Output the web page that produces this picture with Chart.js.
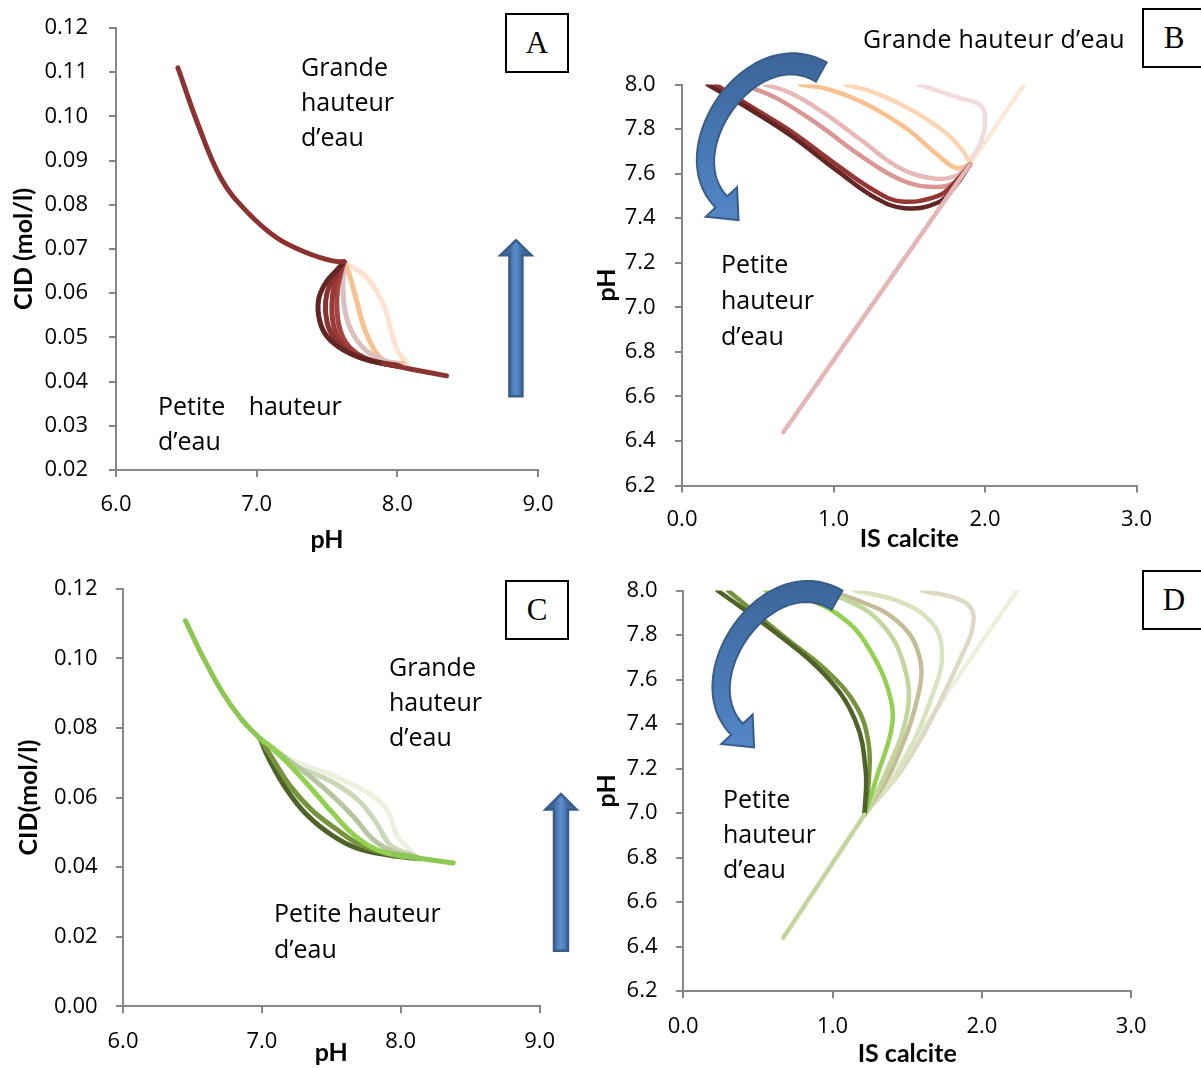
<!DOCTYPE html>
<html>
<head>
<meta charset="utf-8">
<script src="https://cdn.jsdelivr.net/npm/chart.js@4.4.1/dist/chart.umd.min.js"></script>
<style>
html, body { margin: 0; padding: 0; background: #fff; }
body { width: 1201px; height: 1068px; position: relative; overflow: hidden; font-family: "Open Sans", sans-serif; }
canvas { position: absolute; left: 0; top: 0; }
.note { position: absolute; font-size: 25px; line-height: 35px; color: #000; white-space: pre; }
.tag { position: absolute; width: 60px; height: 56px; border: 2px solid #000; background: #fff;
       display: flex; align-items: center; justify-content: center;
       font-family: "Liberation Serif", serif; font-size: 31px; color: #000; }
</style>
</head>
<body>
<canvas id="chartA" width="1201" height="1068"></canvas>
<canvas id="chartB" width="1201" height="1068"></canvas>
<canvas id="chartC" width="1201" height="1068"></canvas>
<canvas id="chartD" width="1201" height="1068"></canvas>

<div class="note" style="left:301px;top:49px">Grande
hauteur
d’eau</div>
<div class="note" style="left:158px;top:388px;line-height:34.5px;word-spacing:1.3px">Petite   hauteur
d’eau</div>
<div class="note" style="left:863px;top:21px;letter-spacing:0.3px">Grande hauteur d’eau</div>
<div class="note" style="left:721px;top:245px;line-height:36px">Petite
hauteur
d’eau</div>
<div class="note" style="left:389px;top:649px">Grande
hauteur
d’eau</div>
<div class="note" style="left:274px;top:895px;line-height:35.5px">Petite hauteur
d’eau</div>
<div class="note" style="left:723px;top:781px">Petite
hauteur
d’eau</div>

<div class="tag" style="left:505px;top:13px">A</div>
<div class="tag" style="left:1142px;top:8px">B</div>
<div class="tag" style="left:505px;top:580px">C</div>
<div class="tag" style="left:1142px;top:570px">D</div>

<script>
// ticks
const aXTicks = [6, 7, 8, 9];
const aYTicks = [0.02, 0.03, 0.04, 0.05, 0.06, 0.07, 0.08, 0.09, 0.10, 0.11, 0.12];
const bXTicks = [0, 1, 2, 3];
const bYTicks = [6.2, 6.4, 6.6, 6.8, 7.0, 7.2, 7.4, 7.6, 7.8, 8.0];
const cXTicks = [6, 7, 8, 9];
const cYTicks = [0, 0.02, 0.04, 0.06, 0.08, 0.10, 0.12];
const dXTicks = [0, 1, 2, 3];
const dYTicks = [6.2, 6.4, 6.6, 6.8, 7.0, 7.2, 7.4, 7.6, 7.8, 8.0];

// A : [pH, CID]
const aTrunk = [[6.44, 0.1110], [6.59, 0.0976], [6.75, 0.0858], [6.92, 0.0788], [7.14, 0.0726], [7.36, 0.0691], [7.54, 0.0673], [7.62, 0.0671]];
const aTail = [[7.90, 0.0441], [8.10, 0.0428], [8.35, 0.0413]];
const aS1 = [[7.62, 0.0671], [7.571, 0.0653], [7.488, 0.0622], [7.44, 0.0585], [7.447, 0.0539], [7.50, 0.0502], [7.618, 0.0471], [7.784, 0.0449], [8.02, 0.0434]];
const aS2 = [[7.62, 0.0671], [7.58, 0.0650], [7.52, 0.0620], [7.49, 0.0580], [7.50, 0.0535], [7.55, 0.0498], [7.65, 0.0468], [7.80, 0.0448], [8.0, 0.0435]];
const aS3 = [[7.62, 0.0671], [7.59, 0.0650], [7.55, 0.0615], [7.535, 0.0575], [7.545, 0.0530], [7.59, 0.0494], [7.68, 0.0466], [7.82, 0.0447], [8.0, 0.0436]];
const aS4 = [[7.62, 0.0671], [7.60, 0.0648], [7.575, 0.0610], [7.57, 0.0570], [7.585, 0.0527], [7.63, 0.0490], [7.71, 0.0464], [7.84, 0.0446], [8.0, 0.0437]];
const aS5 = [[7.625, 0.0669], [7.615, 0.0640], [7.615, 0.0600], [7.635, 0.0550], [7.69, 0.0505], [7.78, 0.0470], [7.90, 0.0449], [8.0, 0.0441]];
const aS6 = [[7.63, 0.0668], [7.67, 0.0630], [7.71, 0.0584], [7.78, 0.0509], [7.90, 0.0448], [8.04, 0.0441]];
const aS7 = [[7.64, 0.0667], [7.78, 0.0636], [7.90, 0.0576], [7.95, 0.0523], [8.0, 0.0471], [8.07, 0.0441]];

// B : [IS calcite, pH]
const bTrunk = [[0.67, 6.44], [1.90, 7.64]];
const bS1 = [[1.90, 7.64], [1.81, 7.55], [1.69, 7.47], [1.47, 7.445], [1.28, 7.49], [1.03, 7.61], [0.72, 7.77], [0.47, 7.88], [0.17, 8.0]];
const bS2 = [[1.90, 7.64], [1.80, 7.56], [1.69, 7.50], [1.45, 7.475], [1.28, 7.52], [1.03, 7.635], [0.72, 7.79], [0.47, 7.895], [0.22, 8.0]];
const bS3 = [[1.90, 7.64], [1.80, 7.56], [1.66, 7.54], [1.45, 7.57], [1.18, 7.68], [0.90, 7.82], [0.62, 7.94], [0.40, 8.0]];
const bS4 = [[1.90, 7.64], [1.79, 7.585], [1.64, 7.58], [1.43, 7.628], [1.18, 7.752], [0.93, 7.876], [0.72, 7.961], [0.55, 8.0]];
const bS5 = [[1.90, 7.64], [1.81, 7.625], [1.69, 7.682], [1.49, 7.798], [1.23, 7.907], [0.98, 7.976], [0.78, 8.0]];
const bS6 = [[1.90, 7.65], [1.85, 7.705], [1.74, 7.783], [1.54, 7.876], [1.28, 7.961], [1.08, 8.0]];
const bS7 = [[1.90, 7.66], [1.97, 7.736], [2.00, 7.845], [1.97, 7.907], [1.84, 7.938], [1.56, 8.0]];
const bS8 = [[1.90, 7.64], [2.26, 8.0]];

// C : [pH, CID]
const cTrunk = [[6.45, 0.1108], [6.573, 0.1006], [6.712, 0.0905], [6.849, 0.0827], [6.987, 0.0769]];
const cTail = [[7.95, 0.0437], [8.144, 0.0425], [8.378, 0.0412]];
const cS1 = [[6.987, 0.0769], [7.05, 0.0712], [7.18, 0.0622], [7.32, 0.0552], [7.50, 0.0493], [7.68, 0.0455], [7.92, 0.0434], [8.14, 0.0424]];
const cS2 = [[6.987, 0.0769], [7.07, 0.0716], [7.21, 0.0630], [7.36, 0.0564], [7.52, 0.0514], [7.72, 0.0462], [7.95, 0.0436], [8.14, 0.0425]];
const cS3 = [[6.987, 0.0769], [7.10, 0.0734], [7.32, 0.0642], [7.51, 0.0556], [7.68, 0.0487], [7.87, 0.0444], [8.14, 0.0425]];
const cS4 = [[6.987, 0.0769], [7.15, 0.0720], [7.35, 0.0660], [7.51, 0.0605], [7.66, 0.0545], [7.80, 0.0480], [7.95, 0.0444], [8.10, 0.0432]];
const cS5 = [[6.987, 0.0769], [7.20, 0.0700], [7.51, 0.0644], [7.70, 0.0590], [7.82, 0.0530], [7.93, 0.0462], [8.09, 0.0434]];
const cS6 = [[6.987, 0.0769], [7.21, 0.0709], [7.51, 0.0663], [7.78, 0.0610], [7.90, 0.0564], [7.98, 0.0487], [8.09, 0.0439]];

// D : [IS calcite, pH]
const dTrunk = [[0.67, 6.44], [1.214, 6.993]];
const dS1 = [[1.214, 6.993], [1.222, 7.19], [1.15, 7.42], [0.95, 7.62], [0.62, 7.81], [0.23, 8.0]];
const dS2 = [[1.214, 6.993], [1.245, 7.17], [1.24, 7.32], [1.16, 7.48], [0.96, 7.64], [0.68, 7.79], [0.30, 8.0]];
const dS3 = [[1.214, 6.993], [1.30, 7.17], [1.40, 7.40], [1.37, 7.56], [1.27, 7.71], [1.10, 7.86], [0.80, 7.97], [0.55, 8.0]];
const dS4 = [[1.214, 6.993], [1.35, 7.17], [1.50, 7.45], [1.48, 7.66], [1.33, 7.85], [1.08, 7.96], [0.80, 8.0]];
const dS5 = [[1.214, 6.993], [1.40, 7.20], [1.58, 7.55], [1.57, 7.73], [1.42, 7.87], [1.15, 7.96], [0.95, 8.0]];
const dS6 = [[1.214, 6.993], [1.45, 7.20], [1.70, 7.59], [1.73, 7.75], [1.66, 7.86], [1.45, 7.95], [1.15, 8.0]];
const dS7 = [[1.214, 6.993], [1.50, 7.23], [1.86, 7.70], [1.945, 7.87], [1.88, 7.95], [1.60, 8.0]];
const dS8 = [[1.214, 6.993], [2.235, 8.0]];

// couleurs (dessous -> dessus)
const aColors = ['#FDE3CF', '#FAC090', '#D9BFC0', '#A6423F', '#9A3937', '#8A3230', '#632523', '#8B3331', '#8B3331'];
const bColors = ['#FDE9D9', '#F2DCDB', '#FCD5B4', '#FAC090', '#E6B9B8', '#D99694', '#943634', '#632523', '#E4B6B5'];
const cColors = ['#EBF1DE', '#C9D8B6', '#B7C6A0', '#4F6228', '#77933C', '#92D050', '#8CC751', '#8CC751'];
const dColors = ['#EBF1DE', '#DDD9C4', '#D7E4BD', '#C4BD97', '#C3D69B', '#92D050', '#77933C', '#4F6228', '#C3D69B'];

const W = 1201, H = 1068;
Chart.defaults.font.family = 'Open Sans';

function arrowPlugin(shape) {
  return {
    id: 'arrows',
    afterDatasetsDraw(chart) {
      if (!shape) return;
      const ctx = chart.ctx, xs = chart.scales.x, ys = chart.scales.y;
      ctx.save();
      ctx.lineJoin = 'miter';
      if (shape.kind === 'up') {
        const cx = xs.getPixelForValue(shape.x);
        const yb = ys.getPixelForValue(shape.y0), yh = ys.getPixelForValue(shape.yHead), yt = ys.getPixelForValue(shape.yTip);
        const s = shape.shaft / 2, h = shape.head / 2;
        ctx.beginPath();
        ctx.moveTo(cx - s, yb); ctx.lineTo(cx - s, yh); ctx.lineTo(cx - h, yh); ctx.lineTo(cx, yt);
        ctx.lineTo(cx + h, yh); ctx.lineTo(cx + s, yh); ctx.lineTo(cx + s, yb); ctx.closePath();
        const g = ctx.createLinearGradient(cx - s, 0, cx + s, 0);
        g.addColorStop(0, '#41699C'); g.addColorStop(0.5, '#5B8ED0'); g.addColorStop(1, '#41699C');
        ctx.fillStyle = g; ctx.fill();
        ctx.strokeStyle = '#385D8A'; ctx.lineWidth = 2.5; ctx.stroke();
      } else {
        const P = shape.ctrl.map(p => [xs.getPixelForValue(p[0]), ys.getPixelForValue(p[1])]);
        const pt = t => {
          const u = 1 - t, a = u * u * u, b = 3 * u * u * t, c = 3 * u * t * t, d = t * t * t;
          return [a * P[0][0] + b * P[1][0] + c * P[2][0] + d * P[3][0], a * P[0][1] + b * P[1][1] + c * P[2][1] + d * P[3][1]];
        };
        const n = 48, left = [], right = [];
        let dir = [0, 0];
        for (let i = 0; i <= n; i++) {
          const t = i / n, p = pt(t), q = pt(Math.min(1, t + 0.01)), r = pt(Math.max(0, t - 0.01));
          let dx = q[0] - r[0], dy = q[1] - r[1];
          const L = Math.hypot(dx, dy); dx /= L; dy /= L;
          dir = [dx, dy];
          const w = (shape.w0 + (shape.w1 - shape.w0) * t) / 2;
          left.push([p[0] - dy * w, p[1] + dx * w]);
          right.push([p[0] + dy * w, p[1] - dx * w]);
        }
        const e = pt(1), hw = shape.head / 2;
        const wl = [e[0] - dir[1] * hw, e[1] + dir[0] * hw], wr = [e[0] + dir[1] * hw, e[1] - dir[0] * hw];
        const tip = [e[0] + dir[0] * shape.headLen, e[1] + dir[1] * shape.headLen];
        ctx.beginPath();
        ctx.moveTo(left[0][0], left[0][1]);
        left.forEach(p => ctx.lineTo(p[0], p[1]));
        ctx.lineTo(wl[0], wl[1]); ctx.lineTo(tip[0], tip[1]); ctx.lineTo(wr[0], wr[1]);
        for (let i = right.length - 1; i >= 0; i--) ctx.lineTo(right[i][0], right[i][1]);
        ctx.closePath();
        const g = ctx.createLinearGradient(0, P[0][1] - 20, 0, tip[1]);
        g.addColorStop(0, '#3C6599'); g.addColorStop(1, '#5287C8');
        ctx.fillStyle = g; ctx.fill();
        ctx.strokeStyle = '#385D8A'; ctx.lineWidth = 2; ctx.stroke();
      }
      ctx.restore();
    }
  };
}

function axis(range, ticks, dec, title, pad, titlePad, fit) {
  return {
    type: 'linear', min: range[0], max: range[1],
    afterBuildTicks: s => { s.ticks = ticks.map(v => ({ value: v })); },
    afterFit: s => {
      fit(s);
      // pas de marge automatique : la zone de tracé reste où on la place
      s.paddingTop = 0; s.paddingBottom = 0; s.paddingLeft = 0; s.paddingRight = 0;
    },
    ticks: { callback: v => v.toFixed(dec), font: { family: 'Open Sans', size: 22 }, color: '#000', padding: pad },
    grid: { drawOnChartArea: false, color: '#868686', lineWidth: 2, tickLength: 7 },
    border: { color: '#868686', width: 2 },
    title: { display: true, text: title, color: '#000', font: { family: 'Lato', size: 25, weight: 'bold' }, padding: titlePad }
  };
}

function buildChart(p) {
  const lh = 25 * 1.2;
  const xAxisH = p.xTitleY - p.area.b + lh / 2;
  const leftPad = Math.max(0, p.area.l - 120);
  new Chart(document.getElementById(p.id), {
    type: 'line',
    data: {
      datasets: p.series.map((s, i) => ({
        data: s, borderColor: p.colors[i], borderWidth: p.lw, pointRadius: 0, tension: 0.4, fill: false,
        borderCapStyle: 'round', borderJoinStyle: 'round', clip: p.clip
      })).reverse()
    },
    options: {
      responsive: false, animation: false, events: [],
      layout: { autoPadding: false, padding: { left: leftPad, top: p.area.t, right: W - p.area.r, bottom: H - p.area.b - xAxisH } },
      plugins: { legend: { display: false }, tooltip: { enabled: false } },
      scales: {
        x: axis(p.xr, p.xt, 1, p.xTitle, p.xPad, { top: 0, bottom: 0 }, s => { s.height = xAxisH; }),
        y: axis(p.yr, p.yt, p.yd, p.yTitle, p.yPad, { top: p.yTitleX - leftPad - lh / 2, bottom: 0 }, s => { s.width = p.area.l - leftPad; })
      }
    },
    plugins: [arrowPlugin(p.arrow)]
  });
}

buildChart({
  id: 'chartA', area: { l: 116, r: 538, t: 28, b: 470 }, xr: [6, 9], yr: [0.02, 0.12], xt: aXTicks, yt: aYTicks, yd: 2,
  xTitle: 'pH', yTitle: 'CID (mol/l)', xTitleY: 540, yTitleX: 24, xPad: 14.8, yPad: 21, lw: 5, clip: undefined,
  series: [aS7, aS6, aS5, aS4, aS3, aS2, aS1, aTail, aTrunk], colors: aColors,
  arrow: { kind: 'up', x: 8.843, y0: 0.0367, yHead: 0.0686, yTip: 0.0720, shaft: 13, head: 31 }
});
buildChart({
  id: 'chartB', area: { l: 682, r: 1136.5, t: 84.5, b: 485.5 }, xr: [0, 3], yr: [6.2, 8.0], xt: bXTicks, yt: bYTicks, yd: 1,
  xTitle: 'IS calcite', yTitle: 'pH', xTitleY: 539, yTitleX: 607, xPad: 14.3, yPad: 19.4, lw: 4.5, clip: 0,
  series: [bS8, bS7, bS6, bS5, bS4, bS3, bS2, bS1, bTrunk], colors: bColors,
  arrow: { kind: 'curve', ctrl: [[0.919, 8.056], [0.464, 8.236], [-0.0765, 7.706], [0.260, 7.473]], w0: 22, w1: 16, head: 43, headLen: 25 }
});
buildChart({
  id: 'chartC', area: { l: 123, r: 539.6, t: 588.8, b: 1006.3 }, xr: [6, 9], yr: [0, 0.12], xt: cXTicks, yt: cYTicks, yd: 2,
  xTitle: 'pH', yTitle: 'CID(mol/l)', xTitleY: 1053, yTitleX: 28.7, xPad: 15, yPad: 18.4, lw: 5, clip: undefined,
  series: [cS6, cS5, cS4, cS1, cS2, cS3, cTail, cTrunk], colors: cColors,
  arrow: { kind: 'up', x: 9.154, y0: 0.01595, yHead: 0.0566, yTip: 0.0610, shaft: 14, head: 31 }
});
buildChart({
  id: 'chartD', area: { l: 683.2, r: 1131.2, t: 590.5, b: 991.2 }, xr: [0, 3], yr: [6.2, 8.0], xt: dXTicks, yt: dYTicks, yd: 1,
  xTitle: 'IS calcite', yTitle: 'pH', xTitleY: 1053.5, yTitleX: 607, xPad: 15.6, yPad: 18.7, lw: 4.5, clip: 0,
  series: [dS8, dS7, dS6, dS5, dS4, dS3, dS2, dS1, dTrunk], colors: dColors,
  arrow: { kind: 'curve', ctrl: [[1.030, 7.957], [0.568, 8.142], [0.019, 7.611], [0.360, 7.377]], w0: 22, w1: 16, head: 43, headLen: 25 }
});
</script>
</body>
</html>
